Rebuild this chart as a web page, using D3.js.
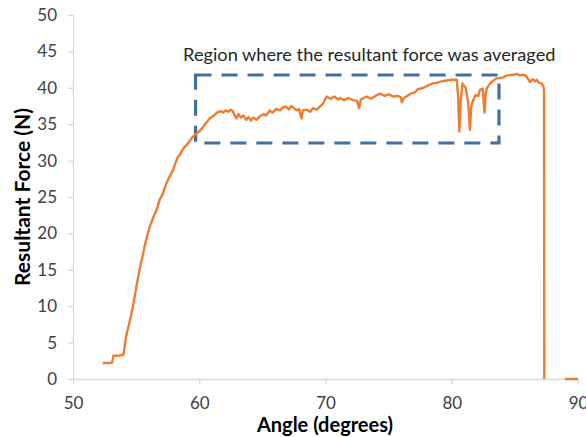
<!DOCTYPE html>
<html>
<head>
<meta charset="utf-8">
<script src="https://cdn.jsdelivr.net/npm/d3@7"></script>
<style>
  body { margin: 0; background: #fff; }
  svg { display: block; font-family: Lato, "Liberation Sans", sans-serif; }
</style>
</head>
<body>
<div id="plot"></div>
<script>
//Angle readings (degrees), null force marks the gap before the last flat piece
const angle = [
    52.36, 52.9, 53.1, 53.2, 53.6, 54.0, 54.2, 54.5, 54.74, 55.0,
    55.27, 55.5, 55.67, 55.9, 56.07, 56.4, 56.6, 56.86, 57.1, 57.4,
    57.65, 57.9, 58.1, 58.31, 58.5, 58.7, 58.98, 59.2, 59.5, 59.77,
    60.0, 60.3, 60.6, 60.82, 61.1, 61.4, 61.7, 61.88, 62.1, 62.3,
    62.5, 62.65, 62.8, 62.94, 63.1, 63.3, 63.5, 63.73, 63.9, 64.1,
    64.3, 64.53, 64.8, 65.1, 65.3, 65.58, 65.8, 66.1, 66.4, 66.6,
    66.9, 67.1, 67.3, 67.5, 67.7, 67.9, 68.1, 68.2, 68.5, 68.8,
    69.0, 69.3, 69.55, 69.8, 70.08, 70.4, 70.7, 71.0, 71.13, 71.5,
    71.8, 72.19, 72.5, 72.66, 72.8, 73.25, 73.6, 74.0, 74.3, 74.7,
    75.0, 75.4, 75.7, 75.96, 76.05, 76.2, 76.5, 76.76, 77.1, 77.3,
    77.55, 77.9, 78.2, 78.5, 78.9, 79.2, 79.6, 80.0, 80.39, 80.5,
    80.6, 80.7, 80.85, 80.91, 81.1, 81.3, 81.44, 81.55, 81.7, 81.9,
    82.1, 82.23, 82.45, 82.55, 82.6, 82.68, 82.77, 83.0, 83.3, 83.56,
    84.0, 84.4, 84.88, 85.2, 85.4, 85.67, 85.9, 86.2, 86.4, 86.6,
    86.73, 86.9, 87.13, 87.25, 87.31, 87.33, 88.0, 88.97, 90.0
];

//Resultant force readings (N)
const force = [
    2.2, 2.2, 2.25, 3.2, 3.2, 3.35, 5.8, 8.0, 9.9, 12.5,
    15.0, 16.8, 18.2, 19.8, 20.9, 22.4, 23.1, 24.6, 25.4, 26.9,
    27.8, 28.6, 29.6, 30.5, 30.9, 31.6, 32.1, 32.6, 33.3, 33.7,
    34.0, 34.6, 35.3, 35.8, 36.1, 36.6, 36.8, 36.6, 36.9, 36.7,
    37.0, 36.8, 36.2, 35.8, 36.4, 35.9, 36.2, 35.6, 36.0, 35.5,
    35.9, 35.6, 36.1, 36.4, 36.2, 36.9, 36.6, 37.1, 36.9, 37.3,
    37.4, 37.0, 37.5, 37.2, 36.9, 37.1, 35.8, 36.9, 37.0, 36.7,
    37.2, 37.0, 37.4, 37.8, 38.8, 38.5, 38.8, 38.4, 38.6, 38.3,
    38.6, 38.3, 38.2, 37.2, 38.4, 38.8, 38.5, 38.9, 39.2, 38.9,
    39.1, 38.8, 38.9, 38.7, 38.0, 38.6, 38.9, 39.2, 39.4, 39.8,
    39.9, 40.1, 40.4, 40.6, 40.7, 40.9, 41.0, 41.1, 41.1, 39.0,
    34.0, 38.0, 40.6, 40.4, 40.0, 38.0, 34.2, 37.5, 38.3, 39.0,
    38.9, 39.7, 39.9, 37.5, 36.6, 39.0, 39.9, 40.5, 41.0, 41.3,
    41.4, 41.7, 41.8, 41.9, 41.7, 41.8, 41.6, 40.8, 41.2, 40.9,
    41.1, 40.7, 40.6, 40.2, 39.7, 0, null, 0, 0
];

//Axis ticks
const xTicks = [50, 60, 70, 80, 90];
const yTicks = [0, 5, 10, 15, 20, 25, 30, 35, 40, 45, 50];

//Averaging region (angle range and force range) and its label
const regionAngle = [59.71, 83.74];
const regionForce = [32.42, 41.76];
const regionLabel = "Region where the resultant force was averaged";

//Size of the svg and the plot area
const w = 586;
const h = 437;
const margin = { top: 15, right: 8, bottom: 58, left: 73 };

const svg = d3.select("#plot")
    .append("svg")
    .attr("width", w)
    .attr("height", h);

const xScale = d3.scaleLinear()
    .domain([50, 90])
    .range([margin.left, w - margin.right]);

const yScale = d3.scaleLinear()
    .domain([0, 50])
    .range([h - margin.bottom, margin.top]);

//X axis, light gray line with ticks pointing down
const xAxis = svg.append("g")
    .attr("transform", "translate(0," + (h - margin.bottom) + ")")
    .call(d3.axisBottom(xScale).tickValues(xTicks).tickSize(5).tickSizeOuter(0).tickPadding(13));

//Y axis, ticks pointing left
const yAxis = svg.append("g")
    .attr("transform", "translate(" + margin.left + ",0)")
    .call(d3.axisLeft(yScale).tickValues(yTicks).tickSize(5).tickSizeOuter(0).tickPadding(11));

[xAxis, yAxis].forEach(g => {
    g.select(".domain").attr("stroke", "#d9d9d9").attr("stroke-width", 1.3);
    g.selectAll(".tick line").attr("stroke", "#d9d9d9").attr("stroke-width", 1.3);
    g.selectAll(".tick text")
        .attr("fill", "#404040")
        .style("font-size", "17px")
        .style("font-family", "Lato, sans-serif");
});

//Dashed box around the averaging region
svg.append("rect")
    .attr("x", xScale(regionAngle[0]))
    .attr("y", yScale(regionForce[1]))
    .attr("width", xScale(regionAngle[1]) - xScale(regionAngle[0]))
    .attr("height", yScale(regionForce[0]) - yScale(regionForce[1]))
    .attr("fill", "none")
    .attr("stroke", "#41719c")
    .attr("stroke-width", 3.2)
    .attr("stroke-dasharray", "16 10");

svg.append("text")
    .attr("x", (xScale(regionAngle[0]) + xScale(regionAngle[1])) / 2 + 22)
    .attr("y", yScale(regionForce[1]) - 14)
    .attr("text-anchor", "middle")
    .attr("fill", "#262626")
    .style("font-size", "18.2px")
    .text(regionLabel);

//The force curve
const points = angle.map((a, i) => ({ a: a, f: force[i] }));

const line = d3.line()
    .defined(d => d.f !== null)
    .x(d => xScale(d.a))
    .y(d => yScale(d.f));

svg.append("path")
    .datum(points)
    .attr("fill", "none")
    .attr("stroke", "#ed7d31")
    .attr("stroke-width", 2.4)
    .attr("stroke-linejoin", "round")
    .attr("d", line);

//Axis titles
svg.append("text")
    .attr("x", 325)
    .attr("y", 432)
    .attr("text-anchor", "middle")
    .attr("fill", "#000")
    .style("font-size", "20px")
    .style("font-weight", "bold")
    .text("Angle (degrees)");

svg.append("text")
    .attr("transform", "translate(30," + yScale(25) + ") rotate(-90)")
    .attr("text-anchor", "middle")
    .attr("fill", "#000")
    .style("font-size", "21px")
    .style("font-weight", "bold")
    .text("Resultant Force (N)");
</script>
</body>
</html>
